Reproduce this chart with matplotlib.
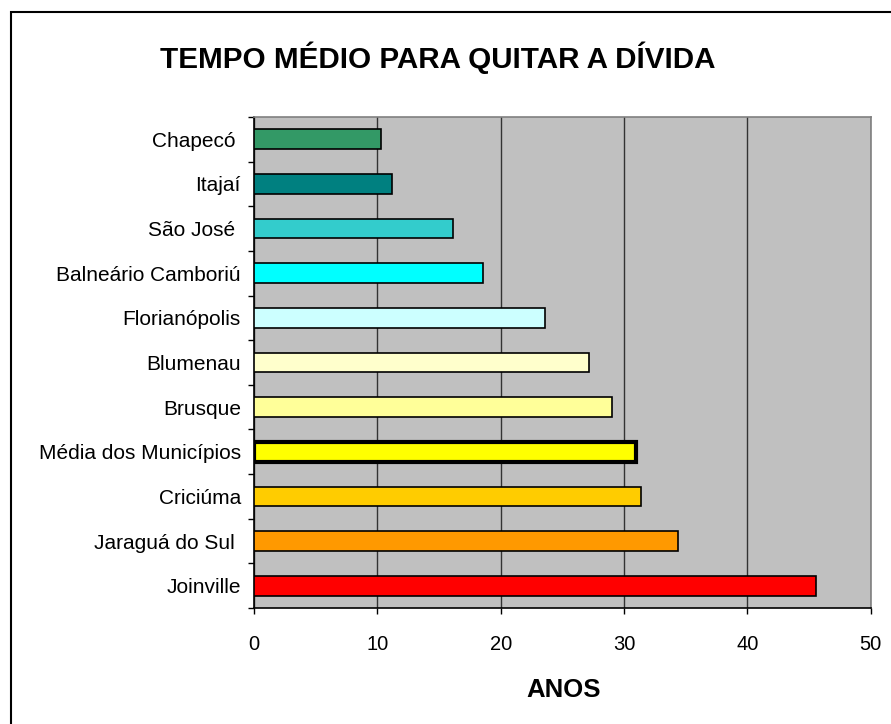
import matplotlib
matplotlib.use('Agg')
import matplotlib.pyplot as plt
from matplotlib.patches import Rectangle
import numpy as np

plt.rcParams['font.family'] = ['Liberation Sans', 'DejaVu Sans']

# dados (de cima para baixo)
municipios = ['Chapecó ', 'Itajaí', 'São José ', 'Balneário Camboriú', 'Florianópolis',
              'Blumenau', 'Brusque', 'Média dos Municípios', 'Criciúma',
              'Jaraguá do Sul ', 'Joinville']
anos = [10.3, 11.2, 16.1, 18.6, 23.6, 27.2, 29.0, 31.0, 31.4, 34.4, 45.6]
cores = ['#339966', '#008080', '#33CCCC', '#00FFFF', '#CCFFFF',
         '#FFFFCC', '#FFFF99', '#FFFF00', '#FFCC00', '#FF9900', '#FF0000']
destaque = 'Média dos Municípios'
xticks = [0, 10, 20, 30, 40, 50]

fig = plt.figure(figsize=(8.91, 7.24), dpi=100)
ax = fig.add_axes([0.2851, 0.1602, 0.6921, 0.6782])
ax.set_facecolor('#C0C0C0')

y = np.arange(len(municipios))
larguras = [3.0 if m == destaque else 1.2 for m in municipios]
ax.barh(y, anos, height=0.44, color=cores, edgecolor='black', linewidth=larguras, zorder=3)

ax.set_xlim(0, 50)
ax.set_ylim(len(municipios) - 0.5, -0.5)

# grade vertical
ax.set_xticks(xticks)
ax.xaxis.grid(True, color='#333333', linewidth=1.0, zorder=1)
ax.set_axisbelow(True)

# rótulos das categorias no centro, marcas entre categorias
ax.set_yticks(y)
ax.set_yticklabels(municipios, fontsize=15)
ax.set_yticks(np.arange(len(municipios) + 1) - 0.5, minor=True)
ax.tick_params(axis='y', which='major', length=0, pad=9.5)
ax.tick_params(axis='y', which='minor', length=4.5, width=1, color='black', direction='out')
ax.tick_params(axis='x', length=4.5, width=1, direction='out', pad=15, labelsize=14.5)

for s in ['left', 'bottom']:
    ax.spines[s].set_color('black')
    ax.spines[s].set_linewidth(1.2)
for s in ['top', 'right']:
    ax.spines[s].set_color('#808080')
    ax.spines[s].set_linewidth(1.2)

fig.text(0.4916, 0.92, 'TEMPO MÉDIO PARA QUITAR A DÍVIDA', fontsize=21.3,
         fontweight='bold', ha='center', va='center')
fig.text(0.632, 0.047, 'ANOS', fontsize=18.5, fontweight='bold', ha='center', va='center')

# moldura do gráfico
fig.patches.append(Rectangle((11 / 891, -0.05), 1.1, 1.05 - 12 / 724,
                             transform=fig.transFigure, fill=False,
                             edgecolor='black', linewidth=1.5))

fig.savefig('out.png', dpi=100)
